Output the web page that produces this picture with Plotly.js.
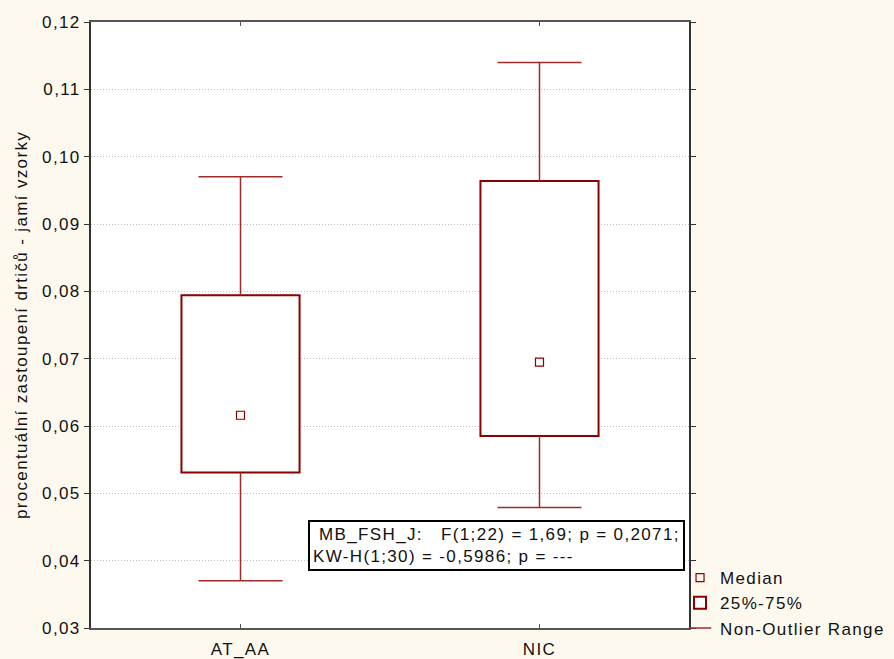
<!DOCTYPE html>
<html><head><meta charset="utf-8">
<script src="https://cdn.plot.ly/plotly-3.0.1.min.js"></script>
<style>
html,body{margin:0;padding:0;background:#fdf9ef;}
text{letter-spacing:1.35px;}
</style>
</head><body><div id="chart" style="width:894px;height:659px;"></div>
<script>
// ---- data ----
const categories = ['AT_AA', 'NIC'];
const whiskerMin = [0.0370, 0.0479];
const q1 = [0.0531, 0.0585];
const median = [0.0616, 0.0695];
const q3 = [0.0794, 0.0964];
const whiskerMax = [0.0970, 0.1140];
const yTickValues = [0.03, 0.04, 0.05, 0.06, 0.07, 0.08, 0.09, 0.10, 0.11, 0.12];
const legendNames = ['Median', '25%-75%', 'Non-Outlier Range'];
const yTitle = 'procentuální zastoupení drtičů - jamí vzorky';
const statsLine1 = '\u00a0MB_FSH_J:\u00a0\u00a0\u00a0F(1;22) = 1,69; p = 0,2071;';
const statsLine2 = 'KW-H(1;30) = -0,5986; p = ---';

// ---- styles ----
const DARK_RED = '#8b0000';
const WHISKER = '#9e2a2a';
const BOX_W = 0.395;
const CAP_PX = 60;
const FONT = 'Liberation Sans, Arial, sans-serif';
const FS = 17;

const xPos = categories.map((c, i) => i);

// whisker stems (q3 -> max, q1 -> min)
const sx = [], sy = [];
xPos.forEach((x, i) => {
  sx.push(x, x, null, x, x, null);
  sy.push(q3[i], whiskerMax[i], null, q1[i], whiskerMin[i], null);
});

const traces = [
  {
    type: 'bar', name: legendNames[1], legendrank: 2,
    x: xPos, base: q1, y: q3.map((v, i) => v - q1[i]),
    width: BOX_W,
    marker: {color: '#ffffff', line: {color: DARK_RED, width: 2}},
    hoverinfo: 'skip'
  },
  {
    type: 'scatter', mode: 'lines', showlegend: false, legendgroup: 'whisk',
    x: sx, y: sy, connectgaps: false,
    line: {color: WHISKER, width: 1.5},
    hoverinfo: 'skip'
  },
  {
    type: 'scatter', mode: 'markers', name: legendNames[2], legendrank: 3, legendgroup: 'whisk',
    x: xPos.concat(xPos), y: whiskerMax.concat(whiskerMin),
    marker: {symbol: 'line-ew-open', size: CAP_PX, color: WHISKER, line: {width: 1.5, color: WHISKER}},
    hoverinfo: 'skip'
  },
  {
    type: 'scatter', mode: 'markers', name: legendNames[0], legendrank: 1,
    x: xPos, y: median,
    marker: {symbol: 'square-open', size: 8, color: DARK_RED, line: {width: 1.2, color: DARK_RED}},
    hoverinfo: 'skip'
  }
];

const layout = {
  width: 894, height: 659,
  margin: {l: 91, r: 205, t: 22, b: 31, pad: 0, autoexpand: false},
  paper_bgcolor: '#fdf9ef',
  plot_bgcolor: '#ffffff',
  separators: ', ',
  font: {family: FONT, size: FS, color: '#111111'},
  showlegend: true,
  legend: {
    x: 0.985, xanchor: 'left', y: 0.112, yanchor: 'top',
    bgcolor: 'rgba(0,0,0,0)', borderwidth: 0,
    font: {family: FONT, size: FS, color: '#111111'},
    tracegroupgap: 0, itemclick: false
  },
  xaxis: {
    range: [-0.5, 1.5],
    tickvals: xPos, ticktext: categories,
    showgrid: false, zeroline: false,
    showline: true, linecolor: '#555555', linewidth: 2, mirror: 'ticks',
    ticks: 'inside', ticklen: 4, tickcolor: '#555555',
    ticklabelstandoff: 5,
    tickfont: {family: FONT, size: FS, color: '#111111'}
  },
  yaxis: {
    range: [0.03, 0.12],
    tickvals: yTickValues, tickformat: '.2f',
    showgrid: true, gridcolor: '#bdbdbd', griddash: '1px,2px', gridwidth: 1,
    zeroline: false,
    showline: true, linecolor: '#333333', linewidth: 2, mirror: 'ticks',
    ticks: 'outside', ticklen: 5, tickcolor: '#333333',
    tickfont: {family: FONT, size: FS, color: '#111111'},
    title: {text: yTitle, font: {family: FONT, size: FS, color: '#111111'}, standoff: 10}
  },
  annotations: [{
    xref: 'paper', yref: 'paper',
    x: 0.3623, xanchor: 'left', y: 0.179, yanchor: 'top',
    text: statsLine1 + '<br>' + statsLine2,
    align: 'left', showarrow: false,
    font: {family: FONT, size: FS, color: '#111111'},
    bgcolor: '#ffffff', bordercolor: '#000000', borderwidth: 2, borderpad: 3
  }]
};

Plotly.newPlot('chart', traces, layout, {displayModeBar: false, staticPlot: true});
</script>
</body></html>
